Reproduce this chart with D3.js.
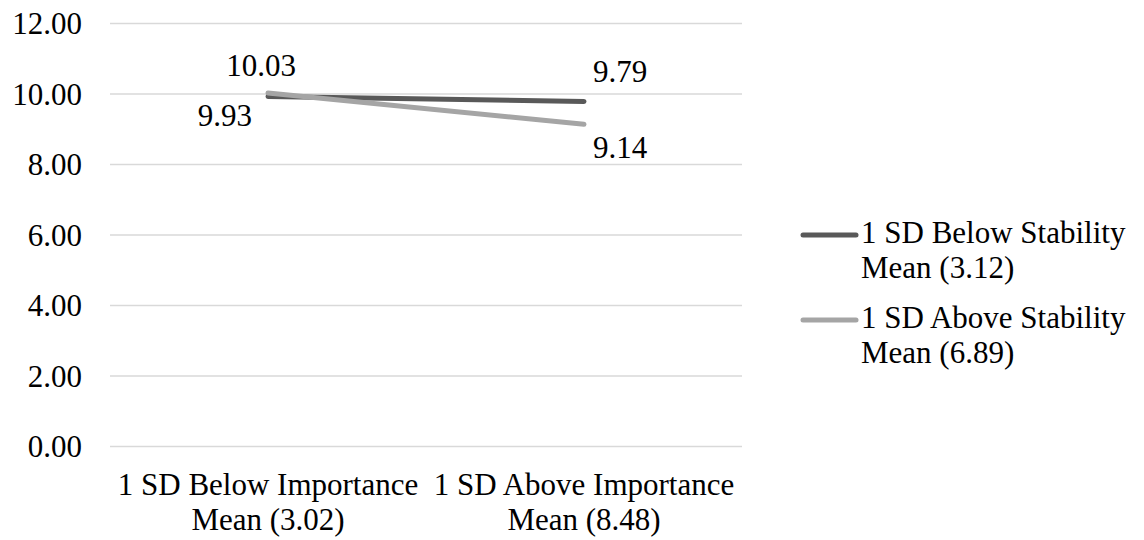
<!DOCTYPE html>
<html>
<head>
<meta charset="utf-8">
<script src="https://cdn.jsdelivr.net/npm/d3@7"></script>
</head>
<body style="margin:0;background:#fff">
<svg id="chart" width="1144" height="540"></svg>
<script>
// Interaction plot: importance (x) by stability (series)
const categories = [
  ["1 SD Below Importance", "Mean (3.02)"],
  ["1 SD Above Importance", "Mean (8.48)"]
];
const seriesNames = [
  ["1 SD Below Stability", "Mean (3.12)"],
  ["1 SD Above Stability", "Mean (6.89)"]
];
const belowStability = [9.93, 9.79];
const aboveStability = [10.03, 9.14];
const yTicks = [0, 2, 4, 6, 8, 10, 12];

const series = [
  { name: seriesNames[0], values: belowStability, color: "#595959" },
  { name: seriesNames[1], values: aboveStability, color: "#a5a5a5" }
];

const FONT = "Times New Roman";
const fontSize = 31;

const svg = d3.select("#chart");
const plot = { left: 110, right: 742, top: 23.5, bottom: 446.5 };

const x = d3.scaleBand()
  .domain(d3.range(categories.length))
  .range([plot.left, plot.right]);
const y = d3.scaleLinear()
  .domain([0, 12])
  .range([plot.bottom, plot.top]);

function styleText(sel) {
  sel.style("font-family", FONT)
    .style("font-size", fontSize + "px");
}

// gridlines
svg.append("g")
  .selectAll("line")
  .data(yTicks)
  .join("line")
  .attr("x1", plot.left).attr("x2", plot.right)
  .attr("y1", d => y(d)).attr("y2", d => y(d))
  .attr("stroke", "#d9d9d9").attr("stroke-width", 1.5);

// y-axis tick labels
const fmt = d3.format(".2f");
svg.append("g")
  .selectAll("text")
  .data(yTicks)
  .join("text")
  .attr("x", 82)
  .attr("y", d => y(d))
  .attr("dy", "0.34em")
  .attr("text-anchor", "end")
  .call(styleText)
  .text(d => fmt(d));

// category labels
const xg = svg.append("g");
categories.forEach((lines, i) => {
  const cx = x(i) + x.bandwidth() / 2;
  const t = xg.append("text")
    .attr("x", cx)
    .attr("y", 495)
    .attr("text-anchor", "middle")
    .call(styleText);
  lines.forEach((ln, j) => {
    t.append("tspan")
      .attr("x", cx)
      .attr("dy", j === 0 ? 0 : 35)
      .text(ln);
  });
});

// lines
const line = d3.line()
  .x((d, i) => x(i) + x.bandwidth() / 2)
  .y(d => y(d));

svg.append("g")
  .selectAll("path")
  .data(series)
  .join("path")
  .attr("d", d => line(d.values))
  .attr("fill", "none")
  .attr("stroke", d => d.color)
  .attr("stroke-width", 5)
  .attr("stroke-linecap", "round");

// data labels
const labelSpecs = [
  // [series index, point index, dx, dy, anchor]
  [0, 0, -16, 30, "end"],
  [1, 0, -7, -17, "middle"],
  [0, 1, 9, -19, "start"],
  [1, 1, 9, 34, "start"]
];
svg.append("g")
  .selectAll("text")
  .data(labelSpecs)
  .join("text")
  .attr("x", d => x(d[1]) + x.bandwidth() / 2 + d[2])
  .attr("y", d => y(series[d[0]].values[d[1]]) + d[3])
  .attr("text-anchor", d => d[4])
  .call(styleText)
  .text(d => fmt(series[d[0]].values[d[1]]));

// legend
const legend = svg.append("g");
series.forEach((s, i) => {
  const top = 235 + i * 85;
  legend.append("line")
    .attr("x1", 803).attr("x2", 856)
    .attr("y1", top).attr("y2", top)
    .attr("stroke", s.color).attr("stroke-width", 5)
    .attr("stroke-linecap", "round");
  const t = legend.append("text")
    .attr("x", 861).attr("y", top + 8)
    .call(styleText);
  s.name.forEach((ln, j) => {
    t.append("tspan").attr("x", 861).attr("dy", j === 0 ? 0 : 35).text(ln);
  });
});
</script>
</body>
</html>
